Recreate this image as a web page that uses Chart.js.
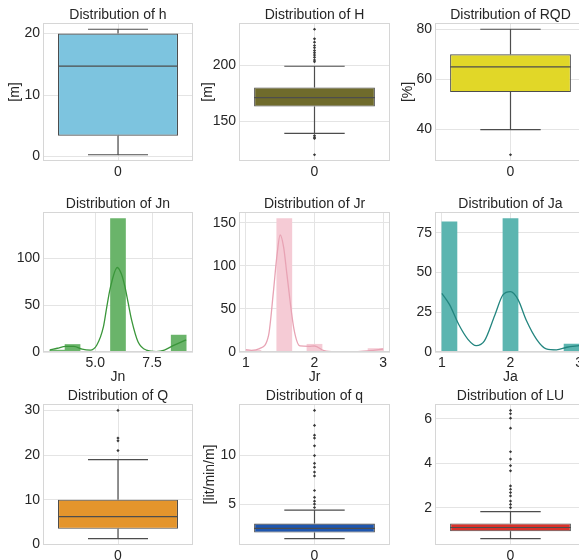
<!DOCTYPE html>
<html><head><meta charset="utf-8">
<script src="https://cdn.jsdelivr.net/npm/chart.js@4.4.1/dist/chart.umd.min.js"></script>
<style>
html,body{margin:0;padding:0;background:#fff;overflow:hidden;}
#wrap{position:relative;width:579px;height:560px;overflow:hidden;background:#fff;}
canvas{position:absolute;}
</style></head><body><div id="wrap"></div>
<script>
// ---------------- data ----------------
// box stats: [lower whisker, Q1, median, Q3, upper whisker]
const h_stats = [0.3, 3.4, 14.7, 20.0, 20.7];
const h_outliers = [];
const H_stats = [139, 163, 171, 180, 199];
const H_outliers = [232, 223.5, 220.5, 217.5, 215.5, 213, 211, 209, 207, 204.5, 203, 137, 135.5, 134.5, 120];
const RQD_stats = [40, 55, 65, 70, 80];
const RQD_outliers = [30];
const Q_stats = [1.3, 3.5, 6.2, 10.0, 19.0];
const Q_outliers = [30, 23.8, 23.2, 21];
const q_stats = [1.45, 2.07, 2.5, 3.0, 4.38];
const q_outliers = [14.65, 13.1, 12.1, 11.8, 11.0, 10.0, 9.2, 8.8, 8.3, 7.9, 6.4, 5.7, 5.3, 5.0, 4.65];
const LU_stats = [0.61, 0.94, 1.11, 1.29, 1.82];
const LU_outliers = [6.38, 6.23, 6.03, 5.58, 4.52, 4.19, 3.89, 3.66, 2.98, 2.83, 2.68, 2.53, 2.30, 2.15, 2.0];

// histograms: bin centres and counts, KDE curves
const Jn_bins = [3.33, 4.0, 4.67, 5.33, 6.0, 6.67, 7.33, 8.0, 8.67];
const Jn_counts = [2, 8, 0, 0, 142, 0, 0, 0, 18];
const Jn_kde_x = [3.0, 3.33, 3.7, 4.06, 4.42, 4.78, 5.07, 5.36, 5.5, 5.65, 5.97, 6.15, 6.3, 6.45, 6.6, 6.88, 7.25, 7.68, 8.04, 8.4, 9.0];
const Jn_kde_y = [2, 4, 6, 6, 3, 2, 7.5, 27, 47, 67, 90, 83, 70, 52, 34, 11, 2, 0.5, 2, 6.5, 13];
const Jr_bins = [1.11, 1.33, 1.56, 1.78, 2.0, 2.22, 2.44, 2.67, 2.89];
const Jr_counts = [2, 0, 155, 0, 9, 0, 0, 0, 4];
const Jr_kde_x = [1.0, 1.08, 1.2, 1.33, 1.4, 1.45, 1.5, 1.55, 1.6, 1.7, 1.79, 1.92, 2.0, 2.14, 2.3, 2.6, 2.8, 3.0];
const Jr_kde_y = [2.7, 2, 4, 19, 69, 110, 136, 122, 89, 27, 7, 6.5, 7, 1.5, 0.3, 0.3, 1.5, 3.5];
const Ja_bins = [1.11, 1.33, 1.56, 1.78, 2.0, 2.22, 2.44, 2.67, 2.89];
const Ja_counts = [82, 0, 0, 0, 84, 0, 0, 0, 5];
const Ja_kde_x = [1.0, 1.11, 1.25, 1.38, 1.5, 1.62, 1.77, 1.89, 2.0, 2.11, 2.23, 2.38, 2.52, 2.67, 2.82, 3.0];
const Ja_kde_y = [37, 30, 17, 8, 4, 7, 23, 36, 38, 33, 20, 8, 2, 1.4, 3, 4];

// axis limits and tick labels
const Jn_xlim = [2.7, 9.3];
const Jr_xlim = [0.9, 3.1];
const Ja_xlim = [0.9, 3.1];
const h_yticks = [0, 10, 20];
const H_yticks = [150, 200];
const RQD_yticks = [40, 60, 80];
const Q_yticks = [0, 10, 20, 30];
const q_yticks = [5, 10];
const LU_yticks = [2, 4, 6];
const Jn_yticks = [0, 50, 100];
const Jr_yticks = [0, 50, 100, 150];
const Ja_yticks = [0, 25, 50, 75];
const Jn_xticks = [5.0, 7.5];
const Jr_xticks = [1, 2, 3];
const Ja_xticks = [1, 2, 3];
const box_xticks = [0];

// ---------------- layout / style ----------------
const FONT = "'Liberation Sans', Arial, sans-serif";
const FS = 14;
const TXT = '#262626';
const GRID = '#e4e4e4';
const FRAME = '#d6d6d6';
const LINE = '#4d4d4d';
const TH = 15, PR = 10;
const COLS = [{L:43, R:193, YW:43}, {L:239, R:390, YW:47}, {L:435, R:586, YW:47}];
const ROWS = [{T:23, B:161, XH:22}, {T:212, B:352, XH:34}, {T:404, B:545, XH:22}];
const BOXW = 0.8, CAP = 0.2;

Chart.defaults.font.family = FONT;
Chart.defaults.color = TXT;
Chart.defaults.animation = false;

const framePlugin = {
  id: 'frame',
  afterDatasetsDraw(chart) {
    const a = chart.chartArea, ctx = chart.ctx;
    ctx.save();
    ctx.strokeStyle = FRAME; ctx.lineWidth = 1;
    ctx.strokeRect(Math.round(a.left) + 0.5, Math.round(a.top) + 0.5,
                   Math.round(a.right - a.left) - 1, Math.round(a.bottom - a.top) - 1);
    ctx.restore();
  }
};

function makeCanvas(r, c) {
  const col = COLS[c], row = ROWS[r];
  const cv = document.createElement('canvas');
  const w = (col.R - col.L) + col.YW + PR;
  const h = (row.B - row.T) + TH + row.XH;
  cv.width = w; cv.height = h;
  cv.style.left = (col.L - col.YW) + 'px';
  cv.style.top = (row.T - TH) + 'px';
  cv.style.width = w + 'px'; cv.style.height = h + 'px';
  document.getElementById('wrap').appendChild(cv);
  return {cv, col, row, left: col.L - col.YW};
}

function baseOptions(p, title, xmin, xmax, xticks, xfmt, ymin, ymax, yticks, ylabel, ylabelX, xlabel) {
  const lh = FS * 1.2;
  return {
    responsive: false, devicePixelRatio: 1, animation: false,
    layout: {padding: {left: 0, right: PR, top: 0, bottom: 0}},
    plugins: {
      legend: {display: false}, tooltip: {enabled: false},
      title: {display: true, text: title, color: TXT, fullSize: false,
              font: {family: FONT, size: FS, weight: 'normal', lineHeight: '14px'},
              padding: {top: 0, bottom: 1}}
    },
    scales: {
      x: {
        type: 'linear', min: xmin, max: xmax, offset: false,
        afterBuildTicks: s => { s.ticks = xticks.map(v => ({value: v})); },
        afterFit: s => { s.height = p.row.XH; },
        ticks: {color: TXT, font: {size: FS}, padding: 3, maxRotation: 0, autoSkip: false,
                callback: v => xfmt(v)},
        grid: {color: GRID, lineWidth: 1, drawTicks: false, offset: false},
        border: {display: false},
        title: {display: !!xlabel, text: xlabel || '', color: TXT,
                font: {size: FS}, padding: {top: 0, bottom: 0}}
      },
      y: {
        type: 'linear', min: ymin, max: ymax,
        afterBuildTicks: s => { s.ticks = yticks.map(v => ({value: v})); },
        afterFit: s => { s.width = p.col.YW; },
        ticks: {color: TXT, font: {size: FS}, padding: 3, autoSkip: false,
                callback: v => String(v)},
        grid: {color: GRID, lineWidth: 1, drawTicks: false},
        border: {display: false},
        title: {display: !!ylabel, text: ylabel || '', color: TXT,
                font: {size: FS, lineHeight: 1.2},
                padding: {top: ylabel ? (ylabelX - p.left - lh / 2) : 0, bottom: 0}}
      }
    }
  };
}

function boxPanel(r, c, title, stats, outliers, color, yticks, ylabel, ylabelX) {
  const p = makeCanvas(r, c);
  const [wLo, q1, med, q3, wHi] = stats;
  const all = stats.concat(outliers);
  const lo = Math.min(...all), hi = Math.max(...all), m = (hi - lo) * 0.05;
  const segs = [
    {x: 0, y: q3}, {x: 0, y: wHi}, {x: 0, y: null},
    {x: -CAP, y: wHi}, {x: CAP, y: wHi}, {x: 0, y: null},
    {x: 0, y: q1}, {x: 0, y: wLo}, {x: 0, y: null},
    {x: -CAP, y: wLo}, {x: CAP, y: wLo}, {x: 0, y: null},
    {x: -BOXW / 2, y: med}, {x: BOXW / 2, y: med}
  ];
  const opts = baseOptions(p, title, -0.5, 0.5, box_xticks, v => String(v),
                           lo - m, hi + m, yticks, ylabel, ylabelX, null);
  new Chart(p.cv, {
    type: 'bar',
    data: {datasets: [
      {type: 'scatter', data: outliers.map(v => ({x: 0, y: v})), order: 0,
       pointStyle: 'rectRot', pointRadius: 1.6, backgroundColor: '#3a3a3a', borderColor: '#3a3a3a', borderWidth: 0},
      {type: 'line', data: segs, order: 1, borderColor: LINE, borderWidth: 1.2,
       pointRadius: 0, spanGaps: false, tension: 0, fill: false},
      {type: 'bar', data: [{x: 0, y: [q1, q3]}], order: 2, backgroundColor: color,
       borderColor: LINE, borderWidth: 1.1, borderSkipped: false,
       categoryPercentage: 1, barPercentage: BOXW}
    ]},
    options: opts,
    plugins: [framePlugin]
  });
}

function histPanel(r, c, title, bins, counts, kx, ky, barColor, lineColor, xlim, xticks, xfmt, yticks, xlabel) {
  const p = makeCanvas(r, c);
  const ymax = Math.max(...counts) * 1.05;
  const opts = baseOptions(p, title, xlim[0], xlim[1], xticks, xfmt, 0, ymax, yticks, null, 0, xlabel);
  new Chart(p.cv, {
    type: 'bar',
    data: {datasets: [
      {type: 'line', data: kx.map((x, i) => ({x, y: ky[i]})), order: 0,
       borderColor: lineColor, borderWidth: 1.3, pointRadius: 0, tension: 0.4,
       cubicInterpolationMode: 'monotone', fill: false},
      {type: 'bar', data: bins.map((x, i) => ({x, y: counts[i]})), order: 1,
       backgroundColor: barColor, borderWidth: 0, categoryPercentage: 1, barPercentage: 1}
    ]},
    options: opts,
    plugins: [framePlugin]
  });
}

boxPanel(0, 0, 'Distribution of h', h_stats, h_outliers, '#7DC4DF', h_yticks, '[m]', 15);
boxPanel(0, 1, 'Distribution of H', H_stats, H_outliers, '#6F6B2C', H_yticks, '[m]', 208);
boxPanel(0, 2, 'Distribution of RQD', RQD_stats, RQD_outliers, '#E1D728', RQD_yticks, '[%]', 408);

histPanel(1, 0, 'Distribution of Jn', Jn_bins, Jn_counts, Jn_kde_x, Jn_kde_y, '#6AB46A', '#3A963A',
          Jn_xlim, Jn_xticks, v => v.toFixed(1), Jn_yticks, 'Jn');
histPanel(1, 1, 'Distribution of Jr', Jr_bins, Jr_counts, Jr_kde_x, Jr_kde_y, '#F5CBD5', '#E8A3B4',
          Jr_xlim, Jr_xticks, v => String(v), Jr_yticks, 'Jr');
histPanel(1, 2, 'Distribution of Ja', Ja_bins, Ja_counts, Ja_kde_x, Ja_kde_y, '#5CB5B0', '#23857F',
          Ja_xlim, Ja_xticks, v => String(v), Ja_yticks, 'Ja');

boxPanel(2, 0, 'Distribution of Q', Q_stats, Q_outliers, '#E4952C', Q_yticks, null, 0);
boxPanel(2, 1, 'Distribution of q', q_stats, q_outliers, '#1E56AF', q_yticks, '[lit/min/m]', 210);
boxPanel(2, 2, 'Distribution of LU', LU_stats, LU_outliers, '#D9312A', LU_yticks, null, 0);
</script>
</body></html>
